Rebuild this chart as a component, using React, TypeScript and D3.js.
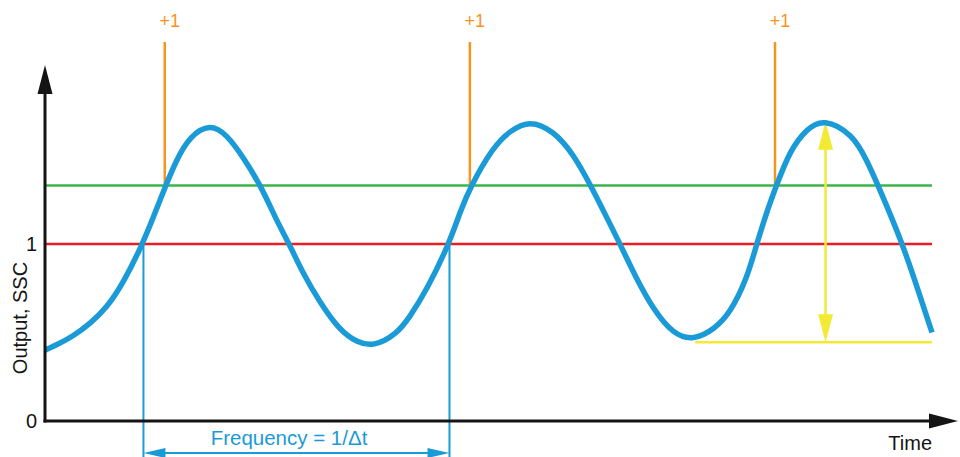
import React from "react";
import * as d3 from "d3";

// signal: time (arbitrary units 0..100) and output
const signalTime = [
  0, 1.32, 3.19, 5.07, 6.96, 8.83, 11.0, 12.21, 13.53, 14.85, 16.35, 18.6,
  20.48, 22.36, 24.43, 25.93, 27.54, 29.12, 31.0, 33.26, 35.14, 37.01, 39.65,
  41.15, 43.03, 45.55, 46.79, 47.91, 50.54, 52.42, 54.68, 57.3, 59.56, 61.63,
  63.33, 64.83, 66.52, 68.58, 70.83, 73.09, 75.5, 77.23, 79.11, 80.24, 81.36,
  82.38, 83.99, 85.87, 87.75, 91.09, 92.67, 94.02, 96.7, 98.42, 100,
];
const signalOutput = [
  0.4, 0.43, 0.48, 0.55, 0.64, 0.78, 1.0, 1.15, 1.32, 1.48, 1.61, 1.68, 1.62,
  1.49, 1.32, 1.15, 1.0, 0.83, 0.67, 0.51, 0.445, 0.42, 0.49, 0.59, 0.74, 1.0,
  1.18, 1.32, 1.55, 1.64, 1.7, 1.64, 1.51, 1.32, 1.15, 1.0, 0.82, 0.63, 0.49,
  0.455, 0.52, 0.61, 0.8, 1.0, 1.18, 1.32, 1.53, 1.65, 1.71, 1.62, 1.47, 1.32,
  1.0, 0.74, 0.5,
];

const referenceLevel = 1; // red
const thresholdLevel = 1.33; // green
const countTimes = [13.5, 47.9, 82.3]; // upward threshold crossings
const countLabel = "+1";
const periodStart = 11.1;
const periodEnd = 45.6;
const ampTime = 88.0;
const ampMin = 0.445;
const ampMax = 1.69;
const ampLineStart = 73.3;

const yTicks = [0, 1];

const W = 960;
const H = 457;
const FONT = "'Liberation Sans', Arial, sans-serif";

const BLUE = "#1a9bd7";
const GREEN = "#3cb54a";
const RED = "#ed1c24";
const ORANGE = "#f7941d";
const YELLOW = "#f3ea36";
const BLACK = "#141414";

export default function App() {
  const x = d3.scaleLinear().domain([0, 100]).range([45, 932]);
  const y = d3.scaleLinear().domain([0, 1]).range([421, 244]);

  const pts = signalTime.map((t, i) => [t, signalOutput[i]] as [number, number]);
  const line = d3
    .line<[number, number]>()
    .x((d) => x(d[0]))
    .y((d) => y(d[1]))
    .curve(d3.curveBasis);

  const x0 = x(0);
  const y0 = y(0);
  const xEnd = x(100);
  const topY = 65;
  const rightX = 958;
  const spikeTop = 42;
  const bracketY = 453;

  return (
    <svg
      width={W}
      height={H}
      style={{ position: "absolute", left: 0, top: 0, background: "#fff" }}
      fontFamily={FONT}
    >
      {/* threshold / reference lines */}
      <line x1={x0} x2={xEnd} y1={y(thresholdLevel)} y2={y(thresholdLevel)} stroke={GREEN} strokeWidth={2.5} />
      <line x1={x0} x2={xEnd} y1={y(referenceLevel)} y2={y(referenceLevel)} stroke={RED} strokeWidth={2.5} />

      {/* counter spikes */}
      {countTimes.map((t) => (
        <g key={t}>
          <line x1={x(t)} x2={x(t)} y1={spikeTop} y2={y(thresholdLevel)} stroke={ORANGE} strokeWidth={2.5} />
          <text x={x(t) + 5} y={27} textAnchor="middle" fontSize={18} fill={ORANGE}>
            {countLabel}
          </text>
        </g>
      ))}

      {/* period bracket */}
      {[periodStart, periodEnd].map((t) => (
        <line key={t} x1={x(t)} x2={x(t)} y1={y(referenceLevel)} y2={H} stroke={BLUE} strokeWidth={2} />
      ))}
      <line x1={x(periodStart) + 10} x2={x(periodEnd) - 10} y1={bracketY} y2={bracketY} stroke={BLUE} strokeWidth={2} />
      <path d={`M${x(periodStart)},${bracketY} l22,-5 l0,10 Z`} fill={BLUE} />
      <path d={`M${x(periodEnd)},${bracketY} l-22,-5 l0,10 Z`} fill={BLUE} />
      <text x={289} y={445} textAnchor="middle" fontSize={20.5} fill={BLUE}>
        Frequency = 1/Δt
      </text>

      {/* amplitude marker */}
      <line x1={x(ampLineStart)} x2={xEnd} y1={y(ampMin)} y2={y(ampMin)} stroke={YELLOW} strokeWidth={2.5} />
      <line x1={x(ampTime)} x2={x(ampTime)} y1={y(ampMax) + 10} y2={y(ampMin) - 10} stroke={YELLOW} strokeWidth={2.5} />
      <path d={`M${x(ampTime)},${y(ampMax)} l-7.5,28 l15,0 Z`} fill={YELLOW} />
      <path d={`M${x(ampTime)},${y(ampMin)} l-7.5,-28 l15,0 Z`} fill={YELLOW} />

      {/* signal */}
      <path d={line(pts) || ""} fill="none" stroke={BLUE} strokeWidth={5.5} />

      {/* axes */}
      <line x1={x0} x2={x0} y1={y0 + 1.5} y2={topY + 20} stroke={BLACK} strokeWidth={3} />
      <path d={`M${x0},${topY} l-7.5,29 l15,0 Z`} fill={BLACK} />
      <line x1={x0 - 1.5} x2={rightX - 20} y1={y0} y2={y0} stroke={BLACK} strokeWidth={3} />
      <path d={`M${rightX},${y0} l-29,-7.5 l0,15 Z`} fill={BLACK} />

      {yTicks.map((v) => (
        <text key={v} x={37} y={y(v)} dy="0.35em" textAnchor="end" fontSize={20} fill={BLACK}>
          {v}
        </text>
      ))}

      <text transform={`translate(27,318) rotate(-90)`} textAnchor="middle" fontSize={20} fill={BLACK}>
        Output, SSC
      </text>
      <text x={932} y={450} textAnchor="end" fontSize={20} fill={BLACK}>
        Time
      </text>
    </svg>
  );
}
